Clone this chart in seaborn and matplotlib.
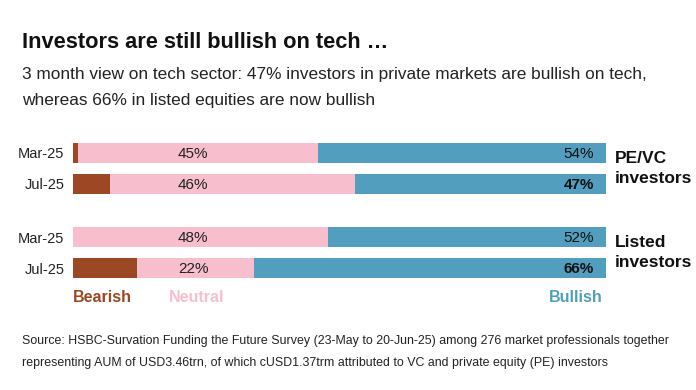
import matplotlib
matplotlib.use("Agg")
import matplotlib.pyplot as plt
import seaborn as sns
import pandas as pd

# ---- data -------------------------------------------------------------
dates = ["Mar-25", "Jul-25"]
groups = ["PE/VC\ninvestors", "Listed\ninvestors"]
pevc_bearish = [1, 7]
pevc_neutral = [45, 46]
pevc_bullish = [54, 47]
listed_bearish = [0, 12]
listed_neutral = [48, 22]
listed_bullish = [52, 66]

BROWN = "#9C4824"
PINK = "#F7BFCE"
BLUE = "#519EBF"

sns.set_theme(style="white")
plt.rcParams["font.family"] = ["Liberation Sans", "DejaVu Sans"]

fig = plt.figure(figsize=(6.96, 3.9), dpi=100)
fig.patch.set_facecolor("white")

fig.text(0.032, 0.892, "Investors are still bullish on tech …", fontsize=15.7,
         fontweight="bold", color="#111111", va="center")
fig.text(0.032, 0.81, "3 month view on tech sector: 47% investors in private markets are bullish on tech,",
         fontsize=12.45, color="#222222", va="center")
fig.text(0.032, 0.743, "whereas 66% in listed equities are now bullish",
         fontsize=12.45, color="#222222", va="center")


def draw_group(ax, bearish, neutral, bullish, label):
    df = pd.DataFrame({"date": dates, "bearish": bearish,
                       "neutral": neutral, "bullish": bullish})
    df["c_neutral"] = df["bearish"] + df["neutral"]
    df["c_bullish"] = df["c_neutral"] + df["bullish"]
    for col, c in [("c_bullish", BLUE), ("c_neutral", PINK), ("bearish", BROWN)]:
        sns.barplot(data=df, x=col, y="date", orient="h", color=c,
                    width=0.66, saturation=1, linewidth=0, ax=ax)
    for i, row in df.iterrows():
        w = "bold" if i == 1 else "normal"
        ax.text(22.6, i + 0.03, f"{row['neutral']}%", ha="center", va="center",
                fontsize=11, color="#222222")
        ax.text(97.8, i + 0.03, f"{row['bullish']}%", ha="right", va="center",
                fontsize=11, color="#111111", fontweight=w)
    ax.set_xlim(0, 100)
    ax.set_ylim(1.5, -0.5)
    ax.set_xlabel("")
    ax.set_ylabel("")
    ax.set_xticks([])
    ax.tick_params(axis="y", length=0, pad=6, labelsize=10.5, labelcolor="#222222")
    for s in ax.spines.values():
        s.set_visible(False)
    ax.text(1.018, 0.5, label, transform=ax.transAxes, ha="left", va="center",
            fontsize=12.5, fontweight="bold", color="#111111", linespacing=1.35)


ax1 = fig.add_axes([0.1045, 0.4885, 0.7655, 0.159])
ax2 = fig.add_axes([0.1045, 0.273, 0.7655, 0.159])
draw_group(ax1, pevc_bearish, pevc_neutral, pevc_bullish, groups[0])
draw_group(ax2, listed_bearish, listed_neutral, listed_bullish, groups[1])

# legend as coloured words under the bars
ax2.text(0.0, -0.23, "Bearish", transform=ax2.transAxes, ha="left", va="center",
         fontsize=11.5, fontweight="bold", color=BROWN)
ax2.text(0.18, -0.23, "Neutral", transform=ax2.transAxes, ha="left", va="center",
         fontsize=11.5, fontweight="bold", color=PINK)
ax2.text(0.995, -0.23, "Bullish", transform=ax2.transAxes, ha="right", va="center",
         fontsize=11.5, fontweight="bold", color=BLUE)

fig.text(0.032, 0.125, "Source: HSBC-Survation Funding the Future Survey (23-May to 20-Jun-25) among 276 market professionals together",
         fontsize=8.9, color="#222222", va="center")
fig.text(0.032, 0.068, "representing AUM of USD3.46trn, of which cUSD1.37trm attributed to VC and private equity (PE) investors",
         fontsize=8.9, color="#222222", va="center")

plt.savefig("out.png", dpi=100)
plt.close()
